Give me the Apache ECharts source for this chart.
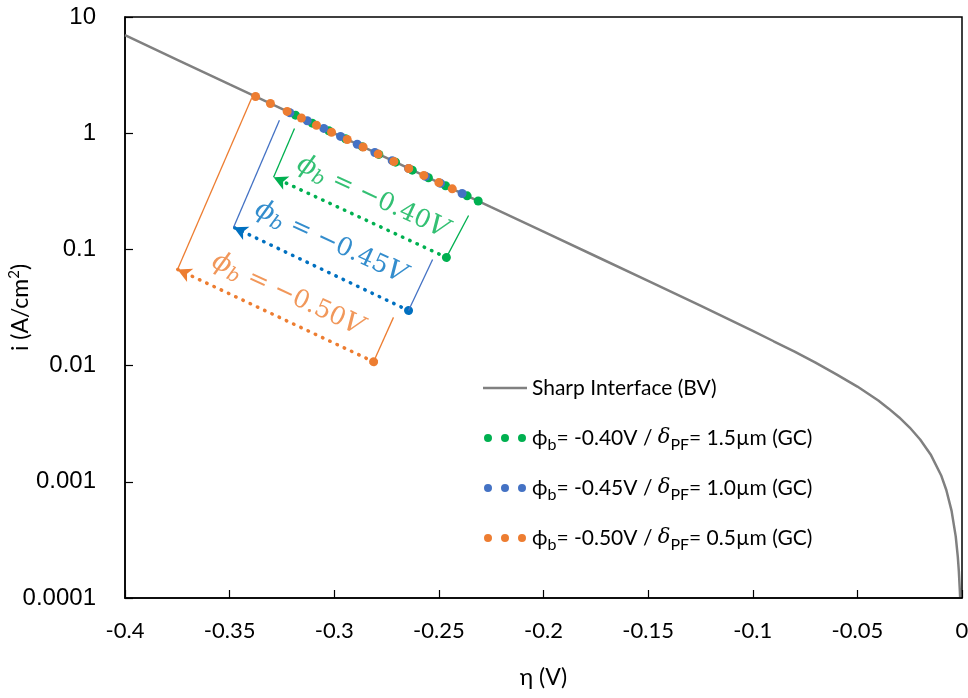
<!DOCTYPE html>
<html><head><meta charset="utf-8">
<script src="https://cdn.jsdelivr.net/npm/echarts@6/dist/echarts.min.js"></script>
<style>html,body{margin:0;padding:0;background:#fff}#c{width:968px;height:698px}</style>
</head><body><div id="c"></div>
<script>
// ---- data ----
const curveEta = [-0.4, -0.375, -0.35, -0.325, -0.3, -0.275, -0.25, -0.225, -0.2, -0.175, -0.15, -0.125, -0.1, -0.09, -0.08, -0.07, -0.06, -0.05, -0.045, -0.04, -0.035, -0.03, -0.025, -0.02, -0.015, -0.01, -0.0075, -0.005, -0.003, -0.002, -0.0015, -0.001, -0.0009];
const curveI = [6.97, 4.28, 2.63, 1.62, 0.995, 0.612, 0.376, 0.231, 0.142, 0.0873, 0.0536, 0.0328, 0.0199, 0.0162, 0.0132, 0.0106, 0.0084, 0.0066, 0.00575, 0.0050, 0.00426, 0.00358, 0.00293, 0.00231, 0.00172, 0.00114, 0.00085, 0.000565, 0.000339, 0.000226, 0.000169, 0.000113, 0.000102];

const greenEta = [-0.3185, -0.3105, -0.3026, -0.2946, -0.2866, -0.2787, -0.2707, -0.2627, -0.2550, -0.2468, -0.2365, -0.2312];
const greenI = [1.43, 1.22, 1.05, 0.896, 0.766, 0.657, 0.563, 0.481, 0.414, 0.353, 0.289, 0.261];

const blueEta = [-0.3212, -0.3129, -0.3050, -0.2970, -0.2890, -0.2806, -0.2723, -0.2645, -0.2564, -0.2492, -0.2389];
const blueI = [1.50, 1.28, 1.10, 0.938, 0.803, 0.682, 0.580, 0.498, 0.426, 0.370, 0.303];

const orangeEta = [-0.3376, -0.3305, -0.3225, -0.3157, -0.3085, -0.3013, -0.2938, -0.2862, -0.2790, -0.2715, -0.2644, -0.2572, -0.2500, -0.2436];
const orangeI = [2.07, 1.80, 1.54, 1.35, 1.17, 1.02, 0.882, 0.760, 0.661, 0.571, 0.497, 0.433, 0.376, 0.332];

const yTickLabels = ['0.0001', '0.001', '0.01', '0.1', '1', '10'];

// annotation geometry (data coordinates): dotted arrow [end dot, arrow tip], extension lines
const greenArrow = [[-0.2464, 0.0853], [-0.3290, 0.418]];
const greenExtA = [[-0.3290, 0.418], [-0.3190, 1.10]];
const greenExtB = [[-0.2464, 0.0853], [-0.2358, 0.196]];
const greenLabelAt = [-0.2817, 0.281];

const blueArrow = [[-0.2645, 0.0298], [-0.3481, 0.155]];
const blueExtA = [[-0.3481, 0.155], [-0.3262, 1.29]];
const blueExtB = [[-0.2645, 0.0298], [-0.2530, 0.082]];
const blueLabelAt = [-0.3018, 0.115];

const orangeArrow = [[-0.2812, 0.0108], [-0.3749, 0.0673]];
const orangeExtA = [[-0.3749, 0.0673], [-0.3395, 2.00]];
const orangeExtB = [[-0.2812, 0.0108], [-0.2717, 0.026]];
const orangeLabelAt = [-0.3223, 0.0409];

const annoTexts = ['{p|ϕ}{s|b}{t| = −0.40}{p|V}', '{p|ϕ}{s|b}{t| = −0.45}{p|V}', '{p|ϕ}{s|b}{t| = −0.50}{p|V}'];

const legendTexts = {
  bv: 'Sharp Interface (BV)',
  g: '{a|ϕ}{s|b}{a|= -0.40V / }{d|δ}{s|PF}{a|= 1.5µm (GC)}',
  b: '{a|ϕ}{s|b}{a|= -0.45V / }{d|δ}{s|PF}{a|= 1.0µm (GC)}',
  o: '{a|ϕ}{s|b}{a|= -0.50V / }{d|δ}{s|PF}{a|= 0.5µm (GC)}'
};

const C_GREEN = '#00B050', C_BLUE = '#4472C4', C_BLUE2 = '#0070C0', C_ORANGE = '#ED7D31', C_GRAY = '#808080';

const zip = (a, b) => a.map((x, i) => [x, b[i]]);
const dotsIcon = 'path://M0,4a4,4 0 1,0 8,0a4,4 0 1,0 -8,0M17,4a4,4 0 1,0 8,0a4,4 0 1,0 -8,0M34,4a4,4 0 1,0 8,0a4,4 0 1,0 -8,0';
const lineIcon = 'path://M0,0L0.01,0L0,0.01ZM0,2.8H44V5.2H0ZM44,8L43.99,8L44,7.99Z';

function annoSeries(color, extColor, arrow, extA, extB, labelAt, text) {
  const ext = (seg) => [
    { coord: seg[0], symbol: 'none', lineStyle: { type: 'solid', width: 1.3, color: extColor } },
    { coord: seg[1], symbol: 'none' }
  ];
  return {
    type: 'scatter',
    silent: true,
    symbolSize: 1,
    itemStyle: { color: 'rgba(0,0,0,0)' },
    data: [labelAt],
    label: {
      show: true, position: 'inside', rotate: -25, color: color,
      formatter: text,
      rich: {
        p: { fontFamily: 'DejaVu Serif', fontStyle: 'italic', fontSize: 27, color: color, lineHeight: 32 },
        s: { fontFamily: 'DejaVu Serif', fontStyle: 'italic', fontSize: 19, color: color, verticalAlign: 'bottom' },
        t: { fontFamily: 'DejaVu Serif', fontSize: 25, color: color, lineHeight: 32 }
      }
    },
    markLine: {
      silent: true, animation: false,
      label: { show: false },
      emphasis: { disabled: true },
      data: [
        [
          { coord: arrow[0], symbol: 'circle', symbolSize: 9,
            lineStyle: { type: [0.5, 7.5], cap: 'round', width: 3.5, color: color } },
          { coord: arrow[1], symbol: 'arrow', symbolSize: [11, 14] }
        ],
        ext(extA),
        ext(extB)
      ],
      itemStyle: { color: color }
    },
    z: 4
  };
}

const chart = echarts.init(document.getElementById('c'), null, { renderer: 'canvas' });
chart.setOption({
  animation: false,
  backgroundColor: '#fff',
  grid: { left: 125, right: 6, top: 17, bottom: 100, show: true, borderColor: '#000', borderWidth: 1.5,
          containLabel: false, outerBoundsMode: 'none' },
  xAxis: {
    type: 'value', min: -0.4, max: 0, interval: 0.05,
    name: 'η (V)', nameLocation: 'middle', nameGap: 68, nameMoveOverlap: false,
    nameTextStyle: { fontFamily: 'Lato', fontSize: 23, color: '#000' },
    axisLine: { show: true, onZero: false, lineStyle: { color: '#000', width: 1.5 } },
    axisTick: { show: true, inside: true, length: 8, lineStyle: { color: '#000', width: 1.2 } },
    axisLabel: { margin: 22, fontFamily: 'Lato', fontSize: 22, color: '#000',
      formatter: v => String(Math.round(v * 100) / 100) },
    splitLine: { show: false }
  },
  yAxis: {
    type: 'log', logBase: 10, min: 0.0001, max: 10,
    name: '{a|i (A/cm}{u|2}{a|)}', nameLocation: 'middle', nameGap: 90, nameRotate: 90, nameMoveOverlap: false,
    nameTextStyle: { fontFamily: 'Lato', fontSize: 23, color: '#000',
      rich: { a: { fontFamily: 'Lato', fontSize: 23, color: '#000', lineHeight: 28 },
              u: { fontFamily: 'Lato', fontSize: 15, color: '#000', verticalAlign: 'top' } } },
    axisLine: { show: true, onZero: false, lineStyle: { color: '#000', width: 1.5 } },
    axisTick: { show: true, inside: true, length: 8, lineStyle: { color: '#000', width: 1.2 } },
    axisLabel: { margin: 29, fontFamily: 'Liberation Sans', fontSize: 24, color: '#000',
      formatter: v => yTickLabels[Math.round(Math.log10(v)) + 4] },
    splitLine: { show: false }, minorTick: { show: false }
  },
  legend: {
    orient: 'vertical', left: 478, top: 368, itemWidth: 44, itemHeight: 8, itemGap: 20,
    selectedMode: false,
    data: [
      { name: 'bv', icon: lineIcon, itemStyle: { color: C_GRAY } },
      { name: 'g', icon: dotsIcon },
      { name: 'b', icon: dotsIcon },
      { name: 'o', icon: dotsIcon }
    ],
    formatter: n => legendTexts[n],
    textStyle: {
      fontFamily: 'Lato', fontSize: 21, color: '#000', lineHeight: 30,
      rich: {
        a: { fontFamily: 'Lato', fontSize: 21, color: '#000', lineHeight: 30 },
        d: { fontFamily: 'DejaVu Serif', fontStyle: 'italic', fontSize: 21, color: '#000', lineHeight: 30 },
        s: { fontFamily: 'Lato', fontSize: 16, color: '#000', verticalAlign: 'bottom' }
      }
    }
  },
  series: [
    { name: 'bv', type: 'line', data: zip(curveEta, curveI), showSymbol: false, symbol: 'none',
      lineStyle: { color: C_GRAY, width: 2.5 }, itemStyle: { color: C_GRAY }, z: 2, silent: true },
    { name: 'g', type: 'scatter', data: zip(greenEta, greenI), symbolSize: 9, itemStyle: { color: C_GREEN, opacity: 1 }, z: 3 },
    { name: 'b', type: 'scatter', data: zip(blueEta, blueI), symbolSize: 9, itemStyle: { color: C_BLUE, opacity: 1 }, z: 3 },
    { name: 'o', type: 'scatter', data: zip(orangeEta, orangeI), symbolSize: 9, itemStyle: { color: C_ORANGE, opacity: 1 }, z: 3 },
    annoSeries(C_GREEN, C_GREEN, greenArrow, greenExtA, greenExtB, greenLabelAt, annoTexts[0]),
    annoSeries(C_BLUE2, C_BLUE, blueArrow, blueExtA, blueExtB, blueLabelAt, annoTexts[1]),
    annoSeries(C_ORANGE, C_ORANGE, orangeArrow, orangeExtA, orangeExtB, orangeLabelAt, annoTexts[2])
  ]
});
</script>
</body></html>
